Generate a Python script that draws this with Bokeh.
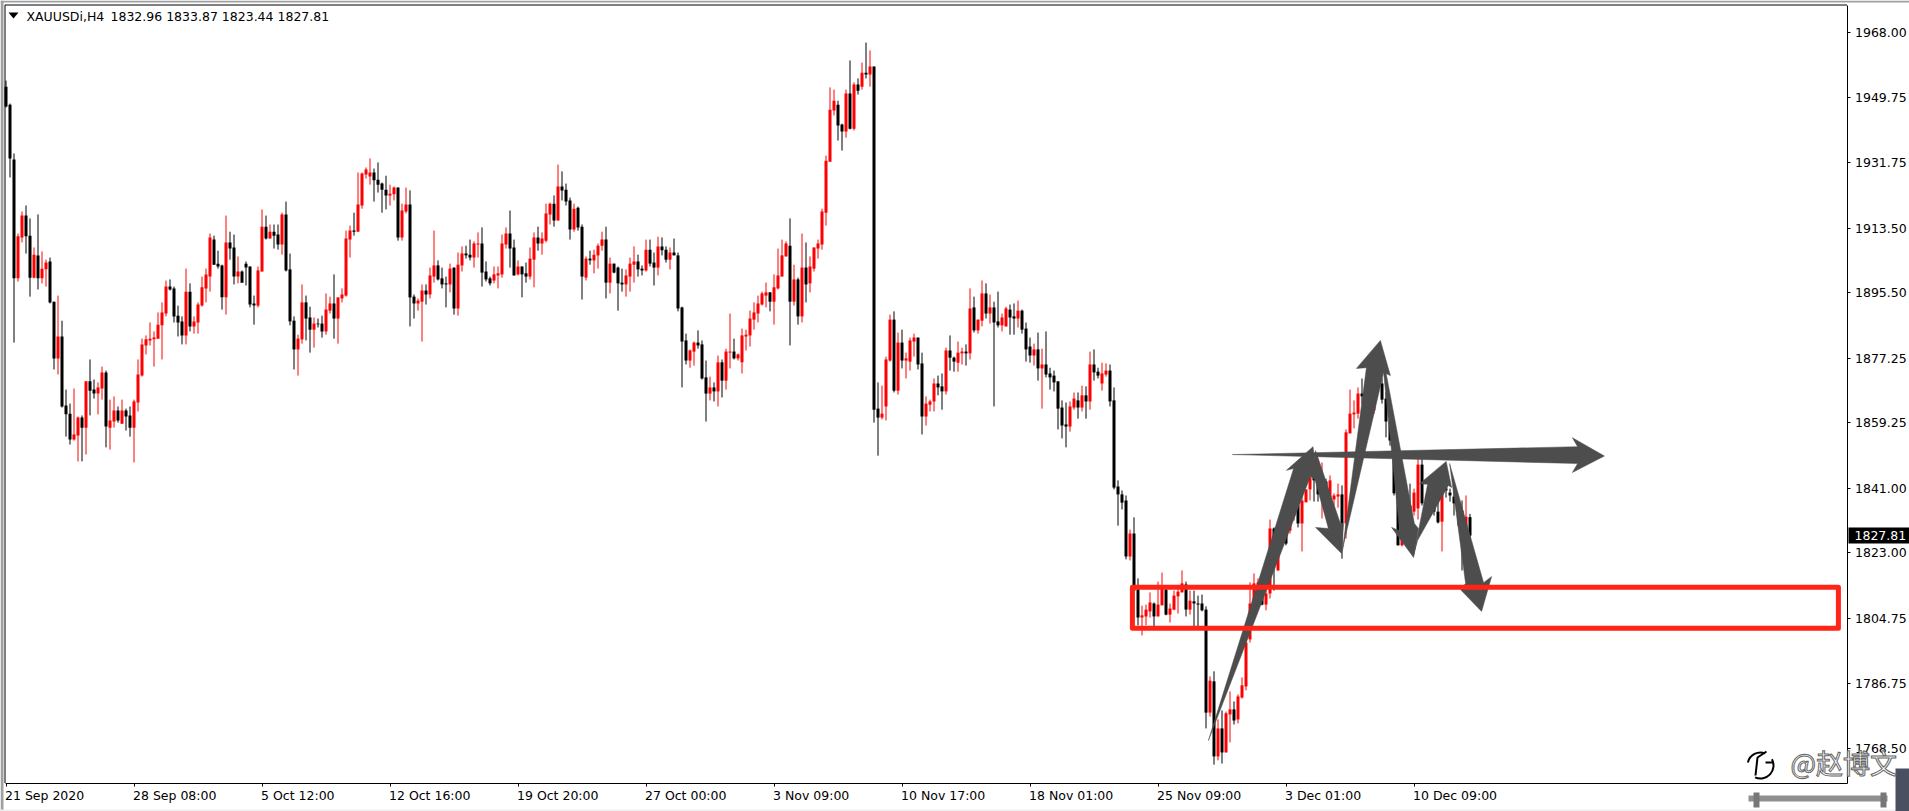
from bokeh.plotting import figure
from bokeh.models import Range1d, FixedTicker, Label, NumeralTickFormatter, PolyAnnotation, ColumnDataSource, BoxAnnotation
from bokeh.embed import file_html
from bokeh.resources import INLINE

opens = [
1952.9,1947.9,1932.6,1899.5,1910.9,1917.0,1911.4,1899.7,1905.9,1899.5,
1902.0,1904.2,1893.0,1877.2,1883.3,1864.1,1861.8,1854.6,1855.7,1860.7,
1857.9,1870.8,1868.5,1867.4,1868.8,1873.3,1857.9,1859.6,1862.7,1859.0,
1862.7,1861.3,1857.9,1864.9,1872.4,1880.8,1882.2,1882.5,1882.7,1886.4,
1889.7,1897.2,1896.7,1889.1,1887.5,1883.6,1895.8,1886.1,1887.2,1891.9,
1896.7,1900.0,1910.3,1903.6,1903.1,1894.2,1909.5,1908.1,1900.0,1901.4,
1903.6,1902.8,1892.5,1891.9,1901.4,1913.9,1910.6,1912.5,1911.7,1908.9,
1917.3,1902.0,1887.7,1879.7,1882.5,1892.8,1888.6,1885.2,1886.9,1886.9,
1884.7,1890.5,1892.5,1888.3,1893.9,1894.7,1910.3,1912.8,1912.5,1919.8,
1928.4,1927.9,1929.0,1927.0,1925.9,1924.2,1922.6,1922.9,1924.8,1910.9,
1918.1,1920.1,1894.4,1892.5,1893.0,1896.1,1895.0,1900.0,1903.1,1899.5,
1898.1,1897.8,1902.5,1891.1,1903.1,1906.4,1906.1,1905.3,1908.9,1909.2,
1901.4,1899.5,1898.9,1900.3,1900.6,1908.9,1912.0,1908.1,1900.6,1902.8,
1900.9,1900.0,1904.7,1910.9,1909.2,1910.0,1917.3,1920.3,1915.6,1925.1,
1924.2,1921.2,1913.1,1919.2,1913.9,1899.7,1905.0,1904.5,1905.9,1908.6,
1910.3,1898.3,1903.6,1902.5,1898.3,1897.8,1900.0,1903.3,1904.2,1902.2,
1901.7,1907.5,1903.9,1902.5,1908.4,1907.5,1904.7,1906.7,1905.9,1891.4,
1882.2,1876.6,1879.1,1881.6,1881.1,1871.9,1867.4,1869.1,1868.0,1876.1,
1871.0,1878.8,1879.1,1877.2,1876.1,1883.3,1883.6,1888.0,1889.7,1892.2,
1894.7,1895.6,1893.0,1896.7,1900.0,1905.6,1908.6,1893.0,1899.2,1888.9,
1902.5,1898.1,1902.2,1907.8,1908.9,1917.8,1932.0,1946.3,1947.9,1942.4,
1940.4,1951.0,1941.2,1953.5,1952.9,1956.8,1956.3,1958.5,1863.2,1860.7,
1863.8,1876.6,1888.0,1868.2,1881.6,1876.6,1876.3,1881.9,1883.0,1875.8,
1861.0,1864.3,1865.2,1870.2,1869.4,1868.0,1879.4,1877.4,1876.0,1878.6,
1879.1,1878.6,1891.4,1885.0,1887.7,1895.3,1889.7,1891.4,1887.5,1886.4,
1886.1,1890.8,1888.9,1888.3,1890.5,1885.5,1880.5,1878.0,1879.7,1874.4,
1875.5,1873.0,1872.4,1870.8,1863.5,1858.8,1858.2,1863.5,1865.5,1863.5,
1866.9,1865.2,1875.5,1873.5,1870.2,1872.7,1873.8,1865.5,1841.5,1839.3,
1837.6,1822.0,1828.4,1812.8,1805.0,1805.3,1806.7,1808.9,1805.3,1808.4,
1812.8,1805.8,1807.2,1810.9,1812.0,1814.2,1807.2,1809.5,1808.9,1808.9,
1807.2,1778.5,1787.2,1766.3,1774.1,1767.4,1778.0,1779.4,1776.6,1782.7,
1785.8,1798.9,1808.6,1812.5,1814.5,1808.6,1811.7,1829.8,1818.1,1829.2,
1833.4,1829.2,1833.4,1836.2,1831.2,1837.1,1840.7,1844.6,1843.2,1838.4,
1842.9,1838.4,1837.9,1838.7,1839.3,1831.2,1856.3,1861.6,1861.8,1867.4,
1867.4,1869.1,1862.7,1871.0,1870.2,1866.0,1859.6,1854.3,1839.6,1825.1,
1832.0,1836.2,1834.5,1835.4,1847.6,1836.8,1834.8,1839.0,1834.5,1831.7,
1841.0,1839.8,1838.7,1836.8,1834.8,1829.2,1832.96]

closes = [
1947.4,1932.9,1899.5,1911.2,1917.0,1911.2,1899.7,1906.1,1899.5,1902.2,
1903.9,1892.8,1877.2,1883.3,1863.8,1861.6,1854.6,1856.0,1860.7,1857.9,
1870.8,1868.2,1867.4,1869.1,1873.3,1858.2,1859.9,1862.7,1859.9,1862.7,
1861.0,1857.9,1865.2,1872.7,1881.1,1882.5,1882.7,1883.0,1886.6,1890.0,
1897.2,1896.4,1888.9,1887.2,1883.6,1895.8,1886.1,1887.5,1892.2,1897.0,
1900.6,1910.9,1903.3,1902.8,1894.2,1909.5,1907.8,1900.0,1901.4,1898.3,
1902.5,1892.2,1891.9,1901.7,1913.9,1910.6,1912.5,1911.4,1908.9,1917.3,
1901.7,1887.5,1879.7,1882.7,1892.8,1888.3,1885.2,1886.9,1886.7,1884.7,
1890.8,1892.5,1888.3,1894.2,1895.0,1910.6,1912.8,1912.5,1920.1,1928.7,
1929.8,1929.0,1926.8,1925.6,1924.2,1922.6,1923.1,1924.8,1910.9,1918.4,
1920.1,1894.2,1892.5,1893.3,1896.1,1895.0,1900.3,1903.1,1899.2,1897.8,
1897.8,1902.2,1891.1,1903.3,1906.4,1905.9,1905.3,1909.2,1909.2,1901.1,
1899.2,1898.1,1900.6,1900.9,1909.2,1912.0,1907.8,1900.3,1902.8,1900.6,
1900.0,1905.0,1910.9,1909.2,1910.6,1917.6,1920.3,1915.6,1925.1,1924.0,
1920.9,1913.1,1918.9,1913.7,1900.0,1905.0,1904.5,1906.1,1908.6,1910.3,
1898.3,1903.6,1901.1,1898.1,1897.8,1900.3,1903.6,1904.2,1902.0,1901.7,
1907.5,1903.6,1902.5,1908.4,1907.3,1904.7,1906.7,1905.9,1891.1,1881.9,
1876.6,1879.4,1881.6,1880.8,1871.6,1867.4,1869.1,1868.0,1876.1,1871.0,
1879.1,1879.1,1877.2,1878.3,1883.6,1883.8,1888.3,1890.0,1892.5,1895.3,
1895.6,1893.0,1897.0,1900.3,1905.9,1909.2,1893.0,1899.2,1888.9,1902.5,
1897.8,1902.8,1908.1,1909.2,1918.1,1932.3,1946.5,1949.0,1942.1,1940.4,
1951.0,1941.2,1953.5,1951.8,1956.8,1956.3,1958.5,1862.9,1860.7,1861.8,
1876.9,1888.0,1868.2,1881.6,1876.6,1877.2,1882.2,1883.0,1875.5,1861.0,
1864.6,1865.2,1870.2,1869.1,1868.0,1879.4,1877.4,1876.3,1878.8,1879.1,
1878.6,1891.1,1885.0,1888.0,1895.3,1889.7,1891.4,1887.2,1886.4,1888.6,
1891.1,1888.6,1888.3,1890.5,1885.2,1879.7,1878.0,1879.7,1874.4,1875.5,
1872.7,1871.9,1870.5,1863.2,1858.5,1858.2,1863.8,1866.0,1863.5,1866.9,
1865.2,1875.5,1873.3,1872.4,1873.0,1873.8,1865.2,1841.2,1839.3,1837.0,
1822.0,1828.4,1812.5,1805.0,1805.6,1807.2,1809.2,1805.3,1808.6,1813.9,
1805.8,1807.5,1811.1,1812.2,1814.5,1807.2,1809.7,1808.9,1808.6,1807.0,
1778.5,1787.4,1766.3,1774.1,1767.4,1778.3,1779.4,1776.3,1783.0,1786.1,
1798.0,1808.9,1814.5,1814.8,1808.6,1811.7,1829.8,1824.5,1822.8,1825.9,
1825.6,1834.8,1836.2,1831.2,1837.6,1840.7,1844.0,1843.2,1839.3,1843.7,
1838.4,1843.2,1839.0,1839.3,1831.2,1856.6,1861.8,1862.1,1867.4,1866.6,
1869.1,1871.0,1868.2,1869.6,1865.7,1859.6,1854.3,1839.6,1825.1,1832.0,
1836.2,1833.4,1839.8,1847.6,1836.8,1834.5,1839.0,1834.5,1831.5,1839.6,
1840.4,1839.0,1836.8,1834.8,1827.3,1833.1,1827.81]

highs = [
1954.6,1948.2,1934.3,1912.0,1918.1,1919.8,1916.2,1908.1,1917.3,1907.0,
1904.7,1905.3,1893.0,1894.7,1887.7,1868.5,1864.6,1868.8,1861.0,1861.3,
1870.8,1876.9,1871.3,1870.5,1874.9,1873.8,1865.7,1866.6,1863.8,1865.7,
1863.2,1863.8,1865.7,1876.9,1882.7,1883.6,1887.2,1884.7,1890.0,1892.8,
1898.9,1899.2,1897.2,1891.9,1888.9,1902.2,1898.1,1888.9,1892.8,1900.0,
1902.2,1912.0,1911.4,1907.2,1903.3,1917.0,1912.5,1911.7,1905.6,1901.7,
1904.2,1902.8,1894.7,1902.8,1918.7,1917.0,1914.5,1914.5,1914.5,1917.8,
1920.9,1906.4,1888.9,1883.8,1897.8,1894.7,1891.6,1888.6,1888.3,1889.1,
1895.3,1894.4,1900.6,1894.2,1896.7,1912.8,1914.2,1917.8,1929.0,1929.0,
1930.4,1932.9,1930.1,1931.8,1926.2,1928.1,1925.6,1925.1,1924.8,1920.3,
1924.8,1924.0,1895.0,1893.9,1897.8,1897.8,1902.5,1912.8,1904.5,1902.5,
1900.0,1903.6,1902.5,1906.7,1908.4,1908.6,1910.3,1909.8,1912.3,1913.7,
1904.2,1900.0,1902.8,1902.8,1911.7,1913.7,1918.4,1910.3,1904.5,1902.8,
1903.9,1908.1,1912.3,1913.9,1912.3,1920.3,1920.6,1922.6,1931.2,1929.3,
1925.9,1922.0,1920.3,1919.5,1914.5,1905.6,1907.2,1907.5,1909.2,1912.5,
1913.9,1905.3,1903.6,1902.8,1902.2,1902.0,1905.3,1908.4,1906.1,1903.1,
1910.3,1910.3,1906.7,1911.1,1910.9,1908.4,1908.1,1910.6,1906.7,1891.6,
1884.1,1879.7,1881.9,1885.0,1882.2,1876.6,1872.1,1870.5,1878.0,1876.9,
1879.9,1889.7,1882.7,1878.6,1885.5,1885.2,1890.5,1892.8,1894.7,1895.8,
1898.3,1895.6,1900.6,1907.8,1910.3,1909.8,1916.2,1903.3,1899.7,1912.0,
1909.5,1905.6,1908.1,1910.3,1918.9,1933.7,1952.7,1952.1,1949.0,1942.6,
1952.1,1960.2,1954.1,1955.2,1959.6,1965.2,1963.0,1958.5,1870.5,1869.6,
1877.7,1889.4,1890.3,1884.4,1885.2,1878.8,1883.0,1884.1,1883.0,1878.8,
1866.6,1865.7,1871.6,1872.4,1873.0,1880.2,1883.6,1877.7,1881.9,1880.2,
1881.1,1896.7,1894.4,1888.0,1898.9,1898.1,1895.0,1893.0,1895.8,1889.7,
1891.6,1892.2,1892.5,1893.3,1890.8,1887.2,1883.0,1881.3,1884.4,1879.9,
1884.7,1874.6,1873.8,1870.8,1865.5,1864.9,1865.2,1867.7,1867.7,1869.6,
1869.4,1879.1,1879.7,1874.6,1876.0,1875.8,1875.5,1869.1,1843.2,1840.4,
1839.0,1829.5,1832.9,1815.9,1808.3,1808.6,1812.0,1809.2,1815.0,1817.5,
1813.9,1808.9,1812.5,1813.9,1818.1,1815.0,1812.5,1812.5,1811.1,1811.4,
1808.1,1788.6,1790.0,1776.6,1779.1,1778.8,1784.4,1781.6,1783.6,1788.3,
1800.0,1814.8,1817.3,1815.9,1816.1,1814.5,1832.3,1830.1,1822.8,1830.6,
1834.8,1836.2,1837.6,1837.6,1839.0,1840.7,1846.0,1846.0,1844.0,1848.2,
1843.7,1844.6,1839.6,1842.3,1841.8,1857.4,1868.5,1865.5,1869.1,1871.6,
1870.5,1872.4,1871.0,1872.1,1871.6,1867.7,1861.3,1857.1,1846.0,1836.2,
1837.6,1842.3,1840.9,1849.3,1849.3,1839.0,1840.4,1840.4,1837.6,1840.4,
1842.3,1840.9,1840.4,1838.2,1837.6,1839.0,1833.87]

lows = [
1947.1,1927.6,1881.6,1898.6,1909.5,1906.4,1894.4,1899.5,1896.4,1898.1,
1897.2,1892.5,1874.1,1872.7,1863.5,1855.4,1853.2,1854.3,1848.5,1848.5,
1850.4,1861.3,1866.0,1861.6,1865.7,1852.4,1851.8,1857.9,1859.3,1859.0,
1857.1,1855.4,1848.2,1862.4,1872.1,1878.3,1880.8,1874.9,1882.7,1876.9,
1888.9,1896.1,1887.2,1883.3,1881.1,1881.1,1884.7,1884.1,1884.1,1891.6,
1892.8,1895.8,1903.3,1902.2,1890.8,1889.4,1904.7,1897.8,1898.1,1898.3,
1897.5,1891.4,1886.6,1891.4,1901.4,1910.3,1910.6,1907.8,1907.5,1906.1,
1901.4,1886.4,1874.1,1872.4,1881.3,1882.2,1878.8,1880.2,1885.8,1883.0,
1883.8,1889.7,1882.7,1881.3,1892.8,1894.4,1905.3,1911.4,1912.5,1918.9,
1927.3,1925.6,1920.9,1923.4,1917.8,1918.7,1919.8,1921.2,1910.0,1910.0,
1917.6,1886.1,1888.3,1890.5,1881.9,1892.2,1893.9,1898.3,1898.9,1896.7,
1891.4,1895.6,1889.4,1889.1,1901.4,1905.0,1904.5,1902.5,1905.3,1897.2,
1898.6,1897.5,1898.1,1896.7,1899.7,1907.8,1902.5,1900.3,1900.3,1894.2,
1898.3,1899.2,1897.0,1907.2,1906.1,1909.5,1914.5,1913.9,1915.6,1921.2,
1919.8,1910.3,1912.5,1912.8,1893.6,1898.9,1903.3,1900.9,1902.2,1907.2,
1893.9,1895.3,1900.9,1890.5,1895.8,1894.4,1895.8,1898.3,1900.0,1900.3,
1901.4,1902.8,1897.5,1900.3,1905.9,1903.9,1902.0,1905.9,1890.3,1869.1,
1875.5,1874.6,1875.2,1879.9,1871.3,1859.6,1865.5,1865.2,1863.8,1866.3,
1868.5,1874.4,1876.9,1876.6,1873.0,1879.4,1880.5,1885.2,1887.2,1891.9,
1891.4,1890.3,1886.6,1896.4,1900.0,1905.6,1880.8,1891.9,1886.6,1887.2,
1892.8,1895.6,1901.4,1905.0,1907.5,1914.2,1932.0,1944.9,1937.9,1935.1,
1938.7,1941.0,1940.7,1950.7,1952.1,1955.2,1952.9,1859.3,1850.1,1860.2,
1859.9,1876.3,1867.7,1867.1,1874.4,1871.6,1873.8,1877.7,1874.1,1856.0,
1858.5,1862.4,1862.4,1866.9,1862.9,1867.1,1873.8,1873.5,1873.5,1875.5,
1875.2,1876.9,1884.4,1884.1,1886.1,1888.3,1886.9,1863.8,1885.8,1884.7,
1886.1,1883.8,1883.8,1885.8,1884.1,1876.3,1876.0,1875.2,1871.0,1863.2,
1871.9,1868.5,1868.0,1857.4,1854.9,1852.4,1856.8,1862.9,1860.4,1862.4,
1860.4,1862.9,1871.0,1871.6,1868.2,1872.1,1863.8,1840.7,1830.6,1835.1,
1821.2,1820.9,1812.5,1802.8,1800.0,1802.8,1805.0,1802.5,1805.3,1808.4,
1805.6,1803.6,1807.0,1806.1,1812.0,1805.3,1805.8,1802.5,1802.5,1806.7,
1774.1,1777.4,1764.0,1765.2,1764.3,1767.4,1770.2,1775.2,1775.5,1782.4,
1784.7,1798.0,1808.6,1812.5,1808.4,1807.0,1810.3,1812.5,1818.1,1825.6,
1825.1,1828.4,1832.0,1830.1,1823.4,1837.1,1837.6,1837.3,1837.3,1832.6,
1838.4,1837.6,1836.2,1835.6,1821.4,1827.0,1856.3,1857.7,1860.4,1864.6,
1866.0,1866.9,1861.8,1868.2,1864.6,1855.2,1852.9,1839.0,1825.1,1824.8,
1830.6,1832.0,1833.4,1832.3,1836.2,1833.4,1834.3,1833.4,1831.2,1823.4,
1838.4,1837.3,1833.4,1830.6,1818.1,1827.8,1823.44]

price_ticks = [1968.0,1949.75,1931.75,1913.5,1895.5,1877.25,1859.25,1841.0,1823.0,1804.75,1786.75,1768.5]
date_tick_bars = [0,32,64,96,128,160,192,224,256,288,320,352]
date_tick_labels = ["21 Sep 2020","28 Sep 08:00","5 Oct 12:00","12 Oct 16:00","19 Oct 20:00","27 Oct 00:00",
                    "3 Nov 09:00","10 Nov 17:00","18 Nov 01:00","25 Nov 09:00","3 Dec 01:00","10 Dec 09:00"]
symbol = "XAUUSDi,H4"
quote = "1832.96 1833.87 1823.44 1827.81"
last_price = 1827.81

# hand-drawn annotations, in (bar number, price)
arrow_bars = [
    [300.6,321.9,320.1,326.75,327.9,326.1],
    [326.6,327.4,333.6,334.4,333.9,327.4,330.6],
    [334.1,340.1,337.6,343.6,346.1,344.4,334.9],
    [344.4,344.9,352.1,353.1,351.9,346.4,348.4],
    [351.9,355.4,353.4,360.05,361.4,360.6,352.9],
    [360.9,369.4,371.4,368.9,363.6,364.9],
    [306.6,392.9,391.6,399.6,391.6,392.9],
]
arrow_prices = [
    [1770.7,1846.5,1846.0,1852.6,1842.9,1844.3],
    [1846.0,1851.5,1831.2,1831.2,1822.8,1830.1,1829.8],
    [1823.7,1874.6,1874.4,1882.2,1872.4,1873.3,1827.8],
    [1873.3,1873.8,1831.2,1829.8,1821.7,1830.1,1829.2],
    [1822.3,1842.1,1842.3,1848.5,1841.2,1841.8,1826.5],
    [1847.9,1814.7,1816.4,1806.7,1812.8,1814.5],
    [1850.4,1852.6,1855.1,1850.0,1845.4,1847.9],
]
zone_bars = (281.6, 458.1)
zone_prices = (1802.0, 1813.4)

UP, DOWN = "#ff0000", "#000000"
FONT = "DejaVu Sans"
W, H = 1909, 811

# page pixel -> chart coordinate (the whole canvas is the plot frame)
def X(px):
    return (px - 5.5) / 4.0

def Y(py):
    return 1968.0 - (py - 32.0) * 0.27863

n = len(closes)
bars = list(range(n))
src = ColumnDataSource(dict(
    x=bars, h=highs, l=lows,
    top=[max(a, b) for a, b in zip(opens, closes)],
    bot=[min(a, b) for a, b in zip(opens, closes)],
    col=[UP if c > o else DOWN for o, c in zip(opens, closes)],
))

p = figure(width=W, height=H, frame_width=W, frame_height=H,
           output_backend="svg", toolbar_location=None,
           x_range=Range1d(X(0), X(W)), y_range=Range1d(Y(H), Y(0)),
           y_axis_location="right", min_border=0, min_border_left=0, min_border_right=0,
           min_border_top=0, min_border_bottom=0)
p.styles = {"position": "absolute", "left": "0px", "top": "0px"}
p.grid.visible = False
p.background_fill_color = "#ffffff"
p.border_fill_color = "#ffffff"
p.outline_line_color = None

ya = p.yaxis[0]
ya.fixed_location = X(1846.5)
ya.bounds = (Y(782.5), Y(4.5))
ya.ticker = FixedTicker(ticks=price_ticks)
ya.formatter = NumeralTickFormatter(format="0.00")
ya.major_tick_out = 3
ya.major_tick_in = 0
ya.minor_tick_out = 0
ya.minor_tick_in = 0
ya.axis_line_color = "#000000"
ya.axis_line_width = 1
ya.major_tick_line_color = "#000000"
ya.major_label_standoff = 5
ya.major_label_text_font = FONT
ya.major_label_text_font_size = "12.5px"
ya.major_label_text_color = "#000000"

xa = p.xaxis[0]
xa.fixed_location = Y(782.5)
xa.bounds = (X(4.5), X(1846.5))
xa.ticker = FixedTicker(ticks=date_tick_bars)
xa.major_label_overrides = {b: "" for b in date_tick_bars}
xa.major_tick_out = 3
xa.major_tick_in = 0
xa.minor_tick_out = 0
xa.minor_tick_in = 0
xa.axis_line_color = "#000000"
xa.major_tick_line_color = "#000000"

# chart window's left and top edges
p.segment(x0=[X(4.5), X(4.5)], y0=[Y(782.5), Y(4.5)], x1=[X(4.5), X(1846.5)], y1=[Y(4.5), Y(4.5)],
          line_color="#000000", line_width=1)

p.segment(x0="x", y0="l", x1="x", y1="h", line_color="col", line_width=1, source=src)
p.vbar(x="x", width=0.75, top="top", bottom="bot", fill_color="col", line_color=None, source=src)

for xs, ys in zip(arrow_bars, arrow_prices):
    p.patch(xs, ys, fill_color="#4d4d4d", line_color="#4d4d4d", line_width=0.5)

p.quad(left=[zone_bars[0]], right=[zone_bars[1]], bottom=[zone_prices[0]], top=[zone_prices[1]],
       fill_color=None, line_color="#ff2416", line_width=5, line_join="round")

# watermark logo
p.arc(x=[X(1760)], y=[Y(765)], radius=13, radius_units="screen", start_angle=-2.0, end_angle=0.5, line_color="#000000", line_width=2)
p.arc(x=[X(1760)], y=[Y(765)], radius=13, radius_units="screen", start_angle=1.2, end_angle=2.9, line_color="#000000", line_width=2)
p.line([X(1766), X(1757), X(1755)], [Y(751), Y(757), Y(775)], line_color="#000000", line_width=2)
p.line([X(1765), X(1773)], [Y(762), Y(762)], line_color="#000000", line_width=2)

for b, t in zip(date_tick_bars, date_tick_labels):
    p.add_layout(Label(x=b, y=H - 795, y_units="screen", x_offset=-1, text=t, text_font=FONT,
                       text_font_size="12.5px", text_color="#000000", text_baseline="middle", text_align="left"))

p.add_layout(Label(x=26, y=H - 16, x_units="screen", y_units="screen", text=symbol, text_font=FONT,
                   text_font_size="12.5px", text_color="#000000", text_baseline="middle", text_align="left"))
p.add_layout(Label(x=110, y=H - 16, x_units="screen", y_units="screen", text=quote, text_font=FONT,
                   text_font_size="12.5px", text_color="#000000", text_baseline="middle", text_align="left"))
p.add_layout(PolyAnnotation(xs=[X(8), X(18), X(13)], ys=[Y(12), Y(12), Y(18)],
                            fill_color="#000000", fill_alpha=1, line_color=None))

def band(l, t, w, h, col):
    p.add_layout(BoxAnnotation(left=X(l), right=X(l + w), top=Y(t), bottom=Y(t + h),
                               fill_color=col, fill_alpha=1, line_color=None, level="overlay"))

# last-price tag
band(1848, 527, 61, 16, "#000000")
p.add_layout(Label(x=1854, y=H - 535, x_units="screen", y_units="screen", text=f"{last_price:.2f}", text_font=FONT,
                   text_font_size="12.5px", text_color="#ffffff", text_baseline="middle", text_align="left",
                   level="overlay"))

# screenshot surroundings
band(0, 0, W, 2, "#a0a0a0")
band(0, 0, 3, H, "#a0a0a0")
band(0, 809, W, 2, "#f0f0f0")
band(1895, 768, 14, 43, "#4a5060")
band(1748, 795, 139, 6, "#8f8f8f")
band(1753, 792, 6, 15, "#777777")
band(1880, 792, 6, 15, "#777777")

# watermark text
p.add_layout(Label(x=1790, y=H - 762, x_units="screen", y_units="screen", text="@赵博文", text_font="Noto Sans CJK SC",
                   text_font_size="27px", text_color="#ffffff", text_outline_color="#666666",
                   text_baseline="middle", text_align="left", level="overlay"))

open("out.html", "w").write(file_html(p, INLINE))
